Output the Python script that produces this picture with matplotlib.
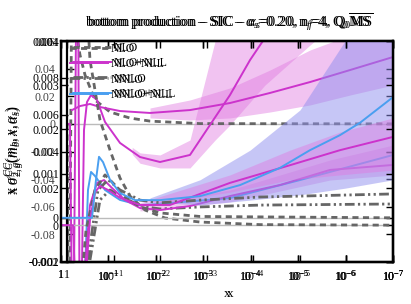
import matplotlib.pyplot as plt
import numpy as np
from matplotlib.lines import Line2D
from matplotlib.ticker import FixedLocator, FuncFormatter

plt.rcParams['font.family'] = ['Liberation Serif', 'DejaVu Serif']
plt.rcParams['mathtext.fontset'] = 'custom'
plt.rcParams['mathtext.rm'] = 'Liberation Serif'
plt.rcParams['mathtext.it'] = 'Liberation Serif:italic'
plt.rcParams['mathtext.bf'] = 'Liberation Serif:bold'

MAG = '#cc33cc'
BLUE = '#4a9ff0'
GRAY = '#666666'
PINK = '#e07ae0'
LAV = '#8f8fee'

# x values are given as log10(x)
# ---- layer A (large scale) ----
a_m1_lx = [0, -0.064, -0.129, -0.225, -0.279, -0.365, -0.429, -0.515, -0.644, -0.816, -1.138,
           -1.568, -1.997, -2.641, -3.50, -3.93, -4.25, -4.47]
a_m1_y = [0, 0, -0.2, 0.2, -0.2, -0.0044, 0.0158, 0.0209, 0.0173, 0.0014, -0.0138,
          -0.024, -0.0276, -0.0225, 0.0209, 0.0462, 0.0622, 0.0752]
a_m1_band_lx = [-1.4, -1.568, -1.997, -2.641, -3.18, -3.5, -4.25, -5.22, -5.6]
a_m1_band_hi = [-0.017, -0.021, -0.0225, -0.0117, 0.06, 0.0824, 0.1259, 0.1621, 0.1766]
a_m1_band_lo = [-0.022, -0.0285, -0.0319, -0.0319, -0.0117, -0.0008, 0.0281, 0.0571, 0.068]

a_m2_lx = [-0.107, -0.279, -0.494, -0.709, -1.138, -1.782, -2.641, -3.5, -4.36, -5.22, -6.08, -7.0]
a_m2_y = [0.0100, 0.0129, 0.0144, 0.0122, 0.0093, 0.0079, 0.0100, 0.0151, 0.0224, 0.0303, 0.039, 0.0484]
a_m2_band_lx = [-1.782, -2.641, -3.5, -4.36, -5.22, -6.08, -7.0]
a_m2_band_hi = [0.0115, 0.0173, 0.026, 0.039, 0.0535, 0.0643, 0.0752]
a_m2_band_lo = [0.0043, 0.0028, 0.0043, 0.0086, 0.0137, 0.0209, 0.0281]

a_nlo_lx = [0, -0.043, -0.107, -0.193, -0.279, -0.387, -0.601, -0.923, -1.353, -1.782, -2.856, -7.0]
a_nlo_y = [0, -0.2, 0.1331, 0.068, 0.0499, 0.0354, 0.0173, 0.0086, 0.0042, 0.0020, 0.0002, 0.0]

# ---- layer B (medium scale) ----
b_m_lx = [0, -0.253, -0.306, -0.464, -0.611, -0.759, -0.907, -1.075, -1.349, -1.666, -2.087,
          -2.720, -3.563, -4.617, -5.672, -7.0]
b_m_y = [0, 0, -0.00352, -0.00352, 0.00109, 0.00229, 0.00245, 0.00202, 0.00137, 0.00093, 0.00082,
         0.00104, 0.00158, 0.00218, 0.0030, 0.00327]
b_m_band_lx = [-1.666, -3.563, -5.672, -7.0]
b_m_band_hi = [0.00109, 0.00191, 0.00354, 0.00435]
b_m_band_lo = [0.00077, 0.00126, 0.00245, 0.00272]

b_b_lx = [-0.485, -0.569, -0.633, -0.717, -0.928, -1.244, -1.666, -2.298, -3.563, -5.039, -7.0]
b_b_y = [-0.00406, 0.00191, 0.00289, 0.00267, 0.00191, 0.00137, 0.00109, 0.00120, 0.00147, 0.00245, 0.00381]

b_nlo_lx = [-0.485, -0.611, -0.822, -1.033, -1.244, -1.455, -1.771, -2.193, -2.931, -4.196, -7.0]
b_nlo_y = [0.0149, 0.00897, 0.00571, 0.00408, 0.00256, 0.00158, 0.00082, 0.00039, 0.00017, 0.00003, 0.0]

b_nnlo_lx = [-0.611, -0.822, -1.033, -1.349, -1.666, -2.087, -2.931, -4.196, -7.0]
b_nnlo_y = [-0.00189, 0.00137, 0.00191, 0.00147, 0.00104, 0.00088, 0.00099, 0.00109, 0.00115]

# ---- layer C (small scale) ----
c_b_lx = [0, -0.654, -0.738, -0.801, -0.886, -1.033, -1.244, -1.560, -2.087, -2.931, -3.774,
          -4.617, -5.250, -5.882, -6.304, -7.0]
c_b_y = [0, 0, 0.00086, 0.00138, 0.00126, 0.00086, 0.00056, 0.00040, 0.00040, 0.00049, 0.00074,
         0.00113, 0.00153, 0.00187, 0.00215, 0.00273]
c_b_band_lx = [-1.876, -2.931, -3.985, -5.039, -5.988, -7.0]
c_b_band_hi = [0.00045, 0.00086, 0.00153, 0.00244, 0.004, 0.00515]
c_b_band_lo = [0.00036, 0.00029, 0.00040, 0.00052, 0.00067, 0.00086]

c_m_lx = [-0.485, -0.611, -0.717, -0.822, -0.991, -1.244, -1.666, -2.298, -3.563, -4.828, -5.882, -7.0]
c_m_y = [-0.00186, -0.00005, 0.00058, 0.00072, 0.00063, 0.00045, 0.00029, 0.00029, 0.00079, 0.00119,
         0.00153, 0.00183]
c_m_band_lx = [-1.666, -3.563, -4.828, -5.882, -7.0]
c_m_band_hi = [0.00034, 0.00097, 0.00153, 0.00194, 0.00226]
c_m_band_lo = [0.00025, 0.00058, 0.00086, 0.00097, 0.00108]

c_nlo_lx = [-0.401, -0.527, -0.717, -0.928, -1.139, -1.349, -1.666, -2.087, -2.931, -7.0]
c_nlo_y = [-0.00186, -0.00028, 0.00063, 0.00097, 0.00074, 0.00047, 0.00025, 0.00011, 0.00003, 0.0]

c_nnlo_lx = [-0.569, -0.780, -0.991, -1.244, -1.666, -2.087, -2.931, -4.196, -7.0]
c_nnlo_y = [-0.00095, 0.00063, 0.00086, 0.00063, 0.00040, 0.00034, 0.00040, 0.00047, 0.00054]

x_ticks = [1, 1e-1, 1e-2, 1e-3, 1e-4, 1e-5, 1e-6, 1e-7]
x_ticklabels = ['1', '$10^{-1}$', '$10^{-2}$', '$10^{-3}$', '$10^{-4}$', '$10^{-5}$', '$10^{-6}$', '$10^{-7}$']
legend_labels = ['NLO', 'NLO+NLL', 'NNLO', 'NNLO+NLL']

DASH = (2.2, 1.6)
DASHDOT = (3.5, 1.2, 0.8, 1.2, 0.8, 1.2)


def X(lx):
    return 10.0 ** np.array(lx)


def setup(ax, ylim, step, lcolor, pad):
    ax.set_xscale('log')
    ax.set_xlim(1, 1e-7)
    ax.set_ylim(*ylim)
    ax.xaxis.set_major_locator(FixedLocator(x_ticks))
    ax.xaxis.set_minor_locator(FixedLocator([]))
    ax.set_xticks(x_ticks)
    ax.set_xticklabels(x_ticklabels)
    yt = np.arange(ylim[0], ylim[1] + step / 2, step)
    ax.yaxis.set_major_locator(FixedLocator(yt))
    ax.yaxis.set_major_formatter(FuncFormatter(lambda v, p: '%g' % round(v, 6) if abs(v) > 1e-9 else '0'))
    ax.tick_params(direction='in', length=5, width=1, top=True, right=True,
                   labelsize=8.5, which='major')
    ax.tick_params(axis='y', pad=pad, labelcolor=lcolor)
    ax.tick_params(axis='x', pad=5)
    for s in ax.spines.values():
        s.set_linewidth(1.6)
    ax.axhline(0, color='#bbbbbb', lw=1, zorder=0)


fig = plt.figure(figsize=(4.11, 3.04), dpi=100)
axA = fig.add_axes([67 / 411, 1 - 262 / 304, 326 / 411, 221 / 304])
axB = fig.add_axes([61 / 411, 1 - 262 / 304, 332 / 411, 221 / 304])
axC = fig.add_axes([61 / 411, 1 - 262 / 304, 332 / 411, 221 / 304])
for ax in (axB, axC):
    ax.patch.set_alpha(0)

setup(axA, (-0.1, 0.06), 0.02, '#444444', 8.5)
setup(axB, (-0.002, 0.01), 0.002, 'black', 1.5)
setup(axC, (-0.001, 0.004), 0.001, 'black', 1.5)

# layer A
axA.fill_between(X(a_m1_band_lx), a_m1_band_lo, a_m1_band_hi, color=PINK, alpha=0.45, lw=0)
axA.fill_between(X(a_m2_band_lx), a_m2_band_lo, a_m2_band_hi, color=PINK, alpha=0.45, lw=0)
axA.plot(X(a_nlo_lx), a_nlo_y, color=GRAY, lw=2, dashes=DASH)
axA.plot(X(a_m1_lx), a_m1_y, color=MAG, lw=1.4)
axA.plot(X(a_m2_lx), a_m2_y, color=MAG, lw=1.4)

# layer B
axB.fill_between(X(b_m_band_lx), b_m_band_lo, b_m_band_hi, color=PINK, alpha=0.4, lw=0)
axB.plot(X(b_nlo_lx), b_nlo_y, color=GRAY, lw=2, dashes=DASH)
axB.plot(X(b_nnlo_lx), b_nnlo_y, color=GRAY, lw=2, dashes=DASHDOT)
axB.plot(X(b_b_lx), b_b_y, color=BLUE, lw=1.4)
axB.plot(X(b_m_lx), b_m_y, color=MAG, lw=1.4)

# layer C
axC.fill_between(X(c_b_band_lx), c_b_band_lo, c_b_band_hi, color=LAV, alpha=0.5, lw=0)
axC.fill_between(X(c_m_band_lx), c_m_band_lo, c_m_band_hi, color=PINK, alpha=0.45, lw=0)
axC.plot(X(c_nlo_lx), c_nlo_y, color=GRAY, lw=2, dashes=DASH)
axC.plot(X(c_nnlo_lx), c_nnlo_y, color=GRAY, lw=2, dashes=DASHDOT)
axC.plot(X(c_m_lx), c_m_y, color=MAG, lw=1.4)
axC.plot(X(c_b_lx), c_b_y, color=BLUE, lw=1.4)

handles = [Line2D([], [], color=GRAY, lw=2, dashes=DASH),
           Line2D([], [], color=MAG, lw=1.4),
           Line2D([], [], color=GRAY, lw=2, dashes=DASHDOT),
           Line2D([], [], color=BLUE, lw=1.4)]
for dx, dy in ((0, 0), (3, 1)):
    leg = fig.legend(handles, legend_labels, loc='upper left',
                     bbox_to_anchor=((70 + dx) / 411, 1 - (43 - dy) / 304),
                     frameon=False, fontsize=8.5, handlelength=3.2, handletextpad=0.2,
                     labelspacing=0.28, borderpad=0, borderaxespad=0)

title = r'bottom production – SIC – $\alpha_s$=0.20, n$_f$=4, Q$_0$$\overline{\rm MS}$'
ylab = r'x $\sigma^{CC}_{2,g}(m_b,x,\alpha_s)$'
for dx in (0, 2):
    fig.text((228 + dx) / 411, 1 - 22 / 304, title, ha='center', va='center', fontsize=10.5)
    fig.text((13 + dx) / 411, 1 - 150 / 304, ylab, ha='center', va='center', rotation=90, fontsize=10.5)
    fig.text((227 + dx * 1.5) / 411, 1 - 294 / 304, 'x', ha='center', va='center', fontsize=9.5)

fig.savefig('out.png', dpi=100)
